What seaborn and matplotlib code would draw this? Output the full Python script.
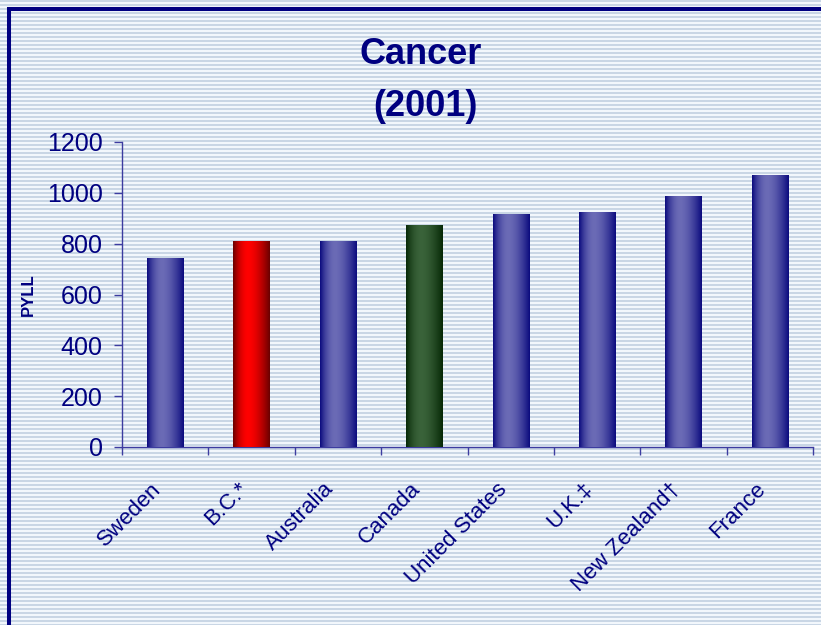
import numpy as np
import matplotlib
matplotlib.use("Agg")
import matplotlib.pyplot as plt
import matplotlib.transforms as mtransforms
import seaborn as sns

# data
countries = ["Sweden", "B.C.*", "Australia", "Canada", "United States", "U.K.\u2021", "New Zealand\u2020", "France"]
pyll = [740, 810, 810, 873, 913, 921, 984, 1070]
bar_kind = ["blue", "red", "blue", "green", "blue", "blue", "blue", "blue"]
y_ticks = [0, 200, 400, 600, 800, 1000, 1200]

navy = "#000080"
# (edge colour, centre colour) for the shaded bars
shades = {
    "blue": ("#0b0b7e", "#6b6bb6"),
    "red": ("#6a0000", "#ff0000"),
    "green": ("#062806", "#3a633a"),
}

sns.set_style("white")
plt.rcParams["font.family"] = ["Liberation Sans", "DejaVu Sans"]

fig = plt.figure(figsize=(8.21, 6.25), dpi=100)

# striped slide background
bg = fig.add_axes([0, 0, 1, 1], zorder=-10)
rows = np.arange(625)
stripe = np.where(rows % 4 < 2, 0, 1)
cols = np.array([[0.79, 0.84, 0.90], [0.95, 0.97, 0.99]])
bg.imshow(cols[stripe][:, None, :], extent=[0, 821, 625, 0], aspect="auto", interpolation="nearest")
bg.plot([9, 9], [7, 625], color=navy, lw=2.9, solid_capstyle="butt")
bg.plot([7, 821], [9, 9], color=navy, lw=2.9, solid_capstyle="butt")
bg.set_xlim(0, 821)
bg.set_ylim(625, 0)
bg.axis("off")

ax = fig.add_axes([122 / 821, 1 - 447 / 625, 691 / 821, 305 / 625])
ax.patch.set_alpha(0)
sns.barplot(x=countries, y=pyll, width=0.42, color="white", ax=ax)

# shade each bar with a horizontal gradient
t = np.linspace(0, 1, 120)
prof = np.where(t < 0.42, 1 - ((0.42 - t) / 0.42) ** 2, 1 - ((t - 0.42) / 0.58) ** 1.6)
for patch, kind in zip(ax.patches, bar_kind):
    x0, w, h = patch.get_x(), patch.get_width(), patch.get_height()
    e = np.array(matplotlib.colors.to_rgb(shades[kind][0]))
    c = np.array(matplotlib.colors.to_rgb(shades[kind][1]))
    grad = e + (c - e) * prof[:, None]
    ax.imshow(grad[None, :, :], extent=[x0, x0 + w, 0, h], aspect="auto", zorder=3)
    patch.set_visible(False)

ax.set_xlim(-0.5, len(countries) - 0.5)
ax.set_ylim(0, 1200)
ax.set_yticks(y_ticks)

for side in ["top", "right"]:
    ax.spines[side].set_visible(False)
for side in ["left", "bottom"]:
    ax.spines[side].set_color("#3c3ca0")
    ax.spines[side].set_linewidth(1)

ax.tick_params(axis="y", which="major", direction="out", length=6, width=1, color="#3c3ca0",
               labelsize=18, labelcolor=navy, pad=8, left=True)
ax.set_xticks(np.arange(-0.5, len(countries)), minor=True)
ax.tick_params(axis="x", which="minor", direction="out", length=6, width=1, color="#3c3ca0", bottom=True)
ax.tick_params(axis="x", which="major", length=0, labelsize=16, labelcolor=navy, pad=28)
shift = mtransforms.ScaledTranslation(-7 / 100, 0, fig.dpi_scale_trans)
for lab in ax.get_xticklabels():
    lab.set_rotation(45)
    lab.set_ha("right")
    lab.set_va("center")
    lab.set_rotation_mode("anchor")
    lab.set_transform(lab.get_transform() + shift)

ax.set_ylabel("PYLL", fontsize=12, fontweight="bold", color=navy)
ax.yaxis.set_label_coords(-0.124, 0.5)

fig.text(421 / 821, 1 - 55 / 625, "Cancer", ha="center", va="center", fontsize=26, fontweight="bold", color=navy)
fig.text(425 / 821, 1 - 106 / 625, "(2001)", ha="center", va="center", fontsize=26, fontweight="bold", color=navy)

fig.savefig("out.png", dpi=100)
